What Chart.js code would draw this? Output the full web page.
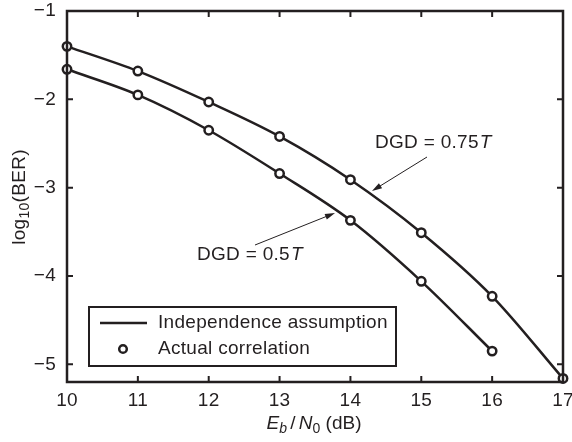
<!DOCTYPE html>
<html>
<head>
<meta charset="utf-8">
<script src="https://cdn.jsdelivr.net/npm/chart.js@4"></script>
<style>
  html, body { margin: 0; padding: 0; background: #fff; }
  #wrap { width: 572px; height: 442px; }
</style>
</head>
<body>
<div id="wrap"><canvas id="ber"></canvas></div>
<script>
// Eb/N0 in dB
const ebn0 = [10, 11, 12, 13, 14, 15, 16, 17];
// log10(BER)
const dgd075 = [-1.40, -1.68, -2.03, -2.42, -2.91, -3.51, -4.23, -5.16];
const dgd05 = [-1.66, -1.95, -2.35, -2.84, -3.37, -4.06, -4.85];
const xTicks = [10, 11, 12, 13, 14, 15, 16, 17];
const yTicks = [-1, -2, -3, -4, -5];

const INK = '#231f20';
const FONT = '"Liberation Sans", Arial, Helvetica, sans-serif';

function pts(xs, ys) {
  return ys.map((y, i) => ({ x: xs[i], y }));
}

function arrow(ctx, x1, y1, x2, y2) {
  const a = Math.atan2(y2 - y1, x2 - x1);
  ctx.beginPath();
  ctx.moveTo(x1, y1);
  ctx.lineTo(x2 - 6 * Math.cos(a), y2 - 6 * Math.sin(a));
  ctx.lineWidth = 1;
  ctx.stroke();
  ctx.beginPath();
  ctx.moveTo(x2, y2);
  ctx.lineTo(x2 - 10 * Math.cos(a) + 3 * Math.sin(a), y2 - 10 * Math.sin(a) - 3 * Math.cos(a));
  ctx.lineTo(x2 - 10 * Math.cos(a) - 3 * Math.sin(a), y2 - 10 * Math.sin(a) + 3 * Math.cos(a));
  ctx.closePath();
  ctx.fill();
}

// text with a trailing italic symbol, e.g. "DGD = 0.75" + "T"
function dgdLabel(ctx, x, y, plain, ital) {
  ctx.textAlign = 'left';
  ctx.textBaseline = 'middle';
  ctx.font = '19px ' + FONT;
  ctx.fillText(plain, x, y);
  const w = ctx.measureText(plain).width;
  ctx.font = 'italic 19px ' + FONT;
  ctx.fillText(ital, x + w + 1, y);
}

const frame = {
  id: 'frame',
  afterDraw(chart) {
    const { ctx, chartArea: a, scales } = chart;
    const xs = scales.x, ys = scales.y;
    ctx.save();
    ctx.strokeStyle = INK;
    ctx.fillStyle = INK;
    ctx.letterSpacing = '0.3px';

    // box
    ctx.lineWidth = 2.5;
    ctx.strokeRect(a.left, a.top, a.right - a.left, a.bottom - a.top);

    // inward ticks, both sides
    ctx.lineWidth = 2;
    ctx.beginPath();
    xTicks.forEach(v => {
      const px = xs.getPixelForValue(v);
      ctx.moveTo(px, a.bottom); ctx.lineTo(px, a.bottom - 6);
      ctx.moveTo(px, a.top); ctx.lineTo(px, a.top + 6);
    });
    yTicks.forEach(v => {
      const py = ys.getPixelForValue(v);
      ctx.moveTo(a.left, py); ctx.lineTo(a.left + 6, py);
      ctx.moveTo(a.right, py); ctx.lineTo(a.right - 6, py);
    });
    ctx.stroke();

    // tick labels
    ctx.font = '19px ' + FONT;
    ctx.textAlign = 'center';
    ctx.textBaseline = 'middle';
    xTicks.forEach(v => ctx.fillText(String(v), xs.getPixelForValue(v), a.bottom + 19));
    ctx.textAlign = 'right';
    yTicks.forEach(v => ctx.fillText('\u2212' + Math.abs(v), a.left - 11, ys.getPixelForValue(v)));

    // x title: E_b/N_0 (dB)
    {
      const parts = [
        ['italic 19px ', 'E', 0], ['italic 14px ', 'b', 5], ['19px ', ' / ', 0],
        ['italic 19px ', 'N', 0], ['14px ', '0', 5], ['19px ', ' (dB)', 0]
      ];
      ctx.letterSpacing = '0px';
      let w = 0;
      parts.forEach(p => { ctx.font = p[0] + FONT; w += ctx.measureText(p[1]).width; });
      let x = 316 - w / 2;
      ctx.textAlign = 'left';
      ctx.textBaseline = 'middle';
      parts.forEach(p => {
        ctx.font = p[0] + FONT;
        const adv = p[1] === ' / ' ? ctx.measureText(p[1]).width - 4 : ctx.measureText(p[1]).width;
        ctx.fillText(p[1], p[1] === ' / ' ? x - 2 : x, 424 + p[2]);
        x += adv;
      });
      ctx.letterSpacing = '0.3px';
    }

    // y title: log10(BER)
    {
      ctx.save();
      ctx.translate(20, 197);
      ctx.rotate(-Math.PI / 2);
      const parts = [['19px ', 'log', 0], ['14px ', '10', 5], ['19px ', '(BER)', 0]];
      let w = 0;
      parts.forEach(p => { ctx.font = p[0] + FONT; w += ctx.measureText(p[1]).width; });
      let x = -w / 2;
      ctx.textAlign = 'left';
      ctx.textBaseline = 'middle';
      parts.forEach(p => {
        ctx.font = p[0] + FONT;
        ctx.fillText(p[1], x, p[2]);
        x += ctx.measureText(p[1]).width;
      });
      ctx.restore();
    }

    // annotations
    dgdLabel(ctx, 375, 143, 'DGD = 0.75', 'T');
    arrow(ctx, 427, 157, 372, 191);
    dgdLabel(ctx, 197, 255, 'DGD = 0.5', 'T');
    arrow(ctx, 255, 245, 335, 213);

    // legend
    ctx.fillStyle = '#fff';
    ctx.fillRect(89, 307, 307, 59);
    ctx.lineWidth = 2;
    ctx.strokeRect(89, 307, 307, 59);
    ctx.lineWidth = 2.5;
    ctx.beginPath();
    ctx.moveTo(100, 323); ctx.lineTo(147, 323);
    ctx.stroke();
    ctx.beginPath();
    ctx.arc(123, 349, 3.8, 0, Math.PI * 2);
    ctx.fillStyle = '#fff';
    ctx.fill();
    ctx.stroke();
    ctx.fillStyle = INK;
    ctx.font = '19px ' + FONT;
    ctx.textAlign = 'left';
    ctx.textBaseline = 'middle';
    ctx.fillText('Independence assumption', 158, 323);
    ctx.fillText('Actual correlation', 158, 349);

    ctx.restore();
  }
};

function series(data) {
  return {
    data,
    borderColor: INK,
    borderWidth: 2.5,
    pointRadius: 4.2,
    pointBorderWidth: 2.5,
    pointBackgroundColor: '#fff',
    pointBorderColor: INK,
    cubicInterpolationMode: 'monotone',
    clip: false
  };
}

new Chart(document.getElementById('ber'), {
  type: 'line',
  data: {
    datasets: [series(pts(ebn0, dgd075)), series(pts(ebn0, dgd05))]
  },
  options: {
    responsive: true,
    maintainAspectRatio: false,
    animation: false,
    layout: { padding: { left: 67, top: 11, right: 9, bottom: 60 } },
    plugins: { legend: { display: false }, tooltip: { enabled: false } },
    scales: {
      x: { type: 'linear', min: 10, max: 17, display: false },
      y: { type: 'linear', min: -5.2, max: -1, display: false }
    }
  },
  plugins: [frame]
});
</script>
</body>
</html>
